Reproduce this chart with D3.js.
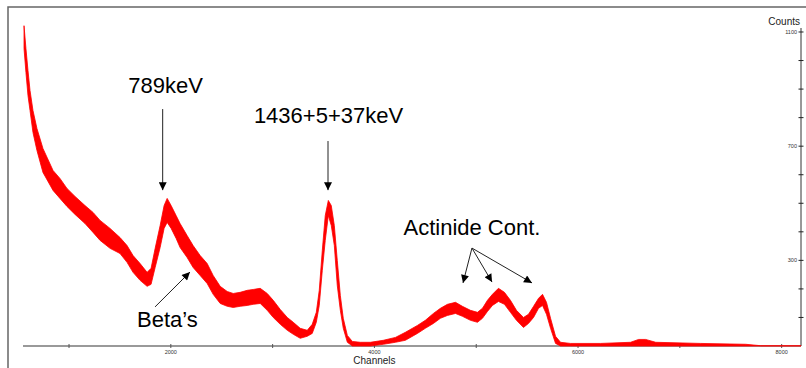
<!DOCTYPE html>
<html>
<head>
<meta charset="utf-8">
<title>Spectrum</title>
<script src="https://cdn.jsdelivr.net/npm/d3@7"></script>
<style>
  body { margin: 0; background: #fff; }
  text { font-family: "Liberation Sans", Arial, sans-serif; }
</style>
</head>
<body>
<script>
// channels sampled along the spectrum
var channels = [558, 577, 597, 617, 646, 685, 744, 843, 911, 980, 1059, 1157, 1236, 1305, 1403, 1501, 1570, 1629, 1698, 1767,
  1806, 1846, 1895, 1934, 1964, 2003, 2052, 2091, 2160, 2219, 2288, 2357, 2416, 2485, 2554, 2613, 2681, 2750, 2809, 2878,
  2947, 3006, 3075, 3144, 3203, 3271, 3340, 3389, 3429, 3458, 3488, 3517, 3547, 3576, 3606, 3635, 3665, 3694, 3734, 3783,
  3861, 3960, 4088, 4206, 4304, 4422, 4500, 4579, 4648, 4717, 4796, 4864, 4943, 5012, 5061, 5110, 5159, 5218, 5277, 5336,
  5395, 5464, 5513, 5563, 5612, 5651, 5690, 5730, 5779, 5828, 5926, 6221, 6516, 6595, 6664, 6763, 7205, 7647, 7795, 8190];
// upper edge of the noisy band (counts)
var countsHi = [1122, 1042, 965, 895, 825, 762, 692, 615, 587, 552, 524, 492, 468, 440, 412, 380, 352, 317, 289, 258,
  272, 342, 422, 492, 517, 492, 457, 429, 387, 352, 317, 289, 247, 209, 191, 184, 188, 195, 198, 202,
  184, 160, 128, 100, 83, 62, 55, 76, 118, 195, 335, 457, 510, 492, 422, 300, 177, 97, 37, 16,
  13, 13, 20, 30, 48, 72, 90, 114, 132, 146, 153, 139, 125, 118, 132, 160, 181, 202, 188, 160,
  125, 100, 111, 139, 167, 181, 153, 97, 34, 13, 9, 9, 13, 23, 23, 13, 9, 6, 1, 1];
// lower edge of the noisy band (counts)
var countsLo = [1042, 958, 877, 825, 748, 685, 608, 545, 517, 489, 461, 429, 398, 370, 342, 324, 293, 258, 230, 209,
  216, 275, 345, 412, 433, 412, 377, 345, 310, 275, 247, 219, 181, 149, 139, 135, 139, 142, 146, 149,
  125, 100, 76, 55, 41, 27, 34, 44, 83, 142, 265, 370, 457, 422, 352, 212, 125, 62, 13, 0,
  0, 0, 6, 13, 20, 44, 62, 79, 97, 107, 114, 104, 90, 83, 97, 121, 142, 156, 146, 118,
  90, 65, 79, 100, 132, 142, 111, 62, 9, 0, 0, 0, 0, 0, 0, 0, 0, 0, 0, 0];

var xTicks = [1000, 2000, 3000, 4000, 5000, 6000, 7000, 8000];
var xLabels = [2000, 4000, 6000, 8000];
var yTicks = [100, 200, 300, 400, 500, 600, 700, 800, 900, 1000, 1100];
var yLabels = [300, 700, 1100];

// annotations: label text, label position [channel, counts], arrows [from, to] in data units
var notes = [
  {text: "789keV", at: [1948, 886], arrows: [[[1920, 830], [1920, 546]]]},
  {text: "1436+5+37keV", at: [3549, 781], arrows: [[[3544, 718], [3544, 546]]]},
  {text: "Actinide Cont.", at: [4958, 389], arrows: [[[4958, 343], [4870, 221]], [[4958, 343], [5155, 224]], [[4958, 343], [5548, 221]]]},
  {text: "Beta\u2019s", at: [1967, 67], arrows: [[[1845, 137], [2188, 259]]]}
];

var width = 806, height = 368;

var x = d3.scaleLinear().domain([548, 8190]).range([23, 801]);
var y = d3.scaleLinear().domain([0, 1114]).range([346, 28]);

var svg = d3.select("body").append("svg")
  .attr("width", width)
  .attr("height", height);

svg.append("defs").append("marker")
  .attr("id", "head")
  .attr("viewBox", "0 0 10 10")
  .attr("refX", 10).attr("refY", 5)
  .attr("markerWidth", 9).attr("markerHeight", 8)
  .attr("markerUnits", "userSpaceOnUse")
  .attr("orient", "auto")
  .append("path")
  .attr("d", "M0,0L10,5L0,10Z")
  .attr("fill", "#000");

// frame
svg.append("path")
  .attr("d", "M8,368V7H806")
  .attr("fill", "none")
  .attr("stroke", "#666")
  .attr("stroke-width", 1.5);

// bottom axis
var xAxis = svg.append("g").attr("transform", "translate(0," + y(0) + ")");
xAxis.append("line")
  .attr("x1", x.range()[0]).attr("x2", x.range()[1])
  .attr("stroke", "#999").attr("stroke-width", 1.8);
xAxis.selectAll(".tk").data(xTicks).enter().append("line")
  .attr("x1", function(d) { return x(d); }).attr("x2", function(d) { return x(d); })
  .attr("y1", -2).attr("y2", 2)
  .attr("stroke", "#555");
xAxis.selectAll(".lb").data(xLabels).enter().append("text")
  .attr("x", function(d) { return x(d); })
  .attr("y", 8)
  .attr("text-anchor", "middle")
  .attr("font-size", 5.5)
  .attr("fill", "#333")
  .text(function(d) { return d; });

svg.append("text")
  .attr("x", x(4000)).attr("y", 364)
  .attr("text-anchor", "middle")
  .attr("font-size", 10)
  .attr("fill", "#222")
  .text("Channels");

// right axis
var yAxis = svg.append("g").attr("transform", "translate(" + x.range()[1] + ",0)");
yAxis.append("line")
  .attr("y1", y.range()[0]).attr("y2", y.range()[1])
  .attr("stroke", "#333");
yAxis.selectAll(".tk").data(yTicks).enter().append("line")
  .attr("y1", function(d) { return y(d); }).attr("y2", function(d) { return y(d); })
  .attr("x1", -2.5).attr("x2", 2.5)
  .attr("stroke", "#222");
yAxis.selectAll(".lb").data(yLabels).enter().append("text")
  .attr("x", -4)
  .attr("y", function(d) { return y(d) + 2; })
  .attr("text-anchor", "end")
  .attr("font-size", 5.5)
  .attr("fill", "#333")
  .text(function(d) { return d; });

svg.append("text")
  .attr("x", 800).attr("y", 25)
  .attr("text-anchor", "end")
  .attr("font-size", 10)
  .attr("fill", "#222")
  .text("Counts");

// spectrum band
var band = d3.area()
  .x(function(d, i) { return x(channels[i]); })
  .y0(function(d, i) { return y(countsLo[i]); })
  .y1(function(d, i) { return y(countsHi[i]); })
  .curve(d3.curveLinear);

svg.append("path")
  .datum(channels)
  .attr("d", band)
  .attr("fill", "#ff0000")
  .attr("stroke", "#ff0000")
  .attr("stroke-width", 0.8)
  .attr("stroke-linejoin", "round");

// annotations
notes.forEach(function(n) {
  svg.append("text")
    .attr("x", x(n.at[0])).attr("y", y(n.at[1]))
    .attr("text-anchor", "middle")
    .attr("font-size", 22)
    .attr("fill", "#000")
    .text(n.text);
  n.arrows.forEach(function(a) {
    svg.append("line")
      .attr("x1", x(a[0][0])).attr("y1", y(a[0][1]))
      .attr("x2", x(a[1][0])).attr("y2", y(a[1][1]))
      .attr("stroke", "#222")
      .attr("stroke-width", 1)
      .attr("marker-end", "url(#head)");
  });
});
</script>
</body>
</html>
